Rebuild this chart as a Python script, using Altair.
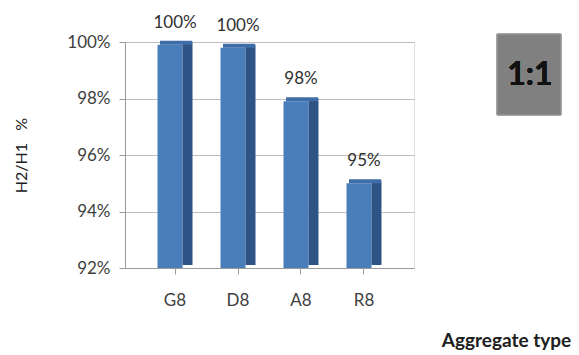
import altair as alt
import pandas as pd

categories = ["G8", "D8", "A8", "R8"]
values = [0.999, 0.998, 0.979, 0.950]
y_ticks = [0.92, 0.94, 0.96, 0.98, 1.00]

df = pd.DataFrame({"cat": categories, "val": values})

FONT = "Lato"
xenc = alt.X("cat:N", sort=categories, scale=alt.Scale(paddingInner=0.5, paddingOuter=0.544),
             axis=alt.Axis(title="Aggregate type", labelAngle=0, labelFontSize=17, labelColor="#404040",
                           labelPadding=18, domainColor="#9a9a9a", tickColor="#9a9a9a", tickSize=6,
                           titleFontSize=19, titleFontWeight="bold", titleColor="#202020",
                           titleX=381, titleY=72, titleAlign="center", titleBaseline="middle",
                           labelFont=FONT, titleFont=FONT))
yscale = alt.Scale(domain=[0.92, 1.0], zero=False, clamp=True)
yenc = alt.Y("val:Q", scale=yscale,
             axis=alt.Axis(title="H2/H1\u00a0\u00a0\u00a0%", format=".0%", values=y_ticks, labelFontSize=17,
                           labelColor="#404040", labelPadding=9, domainColor="#9a9a9a", tickColor="#9a9a9a",
                           gridColor="#bdbdbd", tickSize=6, titleFontSize=16, titleFontWeight="normal",
                           titleColor="#202020", titleX=-104, titleY=113, titleAngle=270,
                           titleAlign="center", titleBaseline="middle",
                           labelFont=FONT, titleFont=FONT))

base = alt.Chart(df)

side = base.mark_bar(width=10, xOffset=12.5, yOffset=-3, y2Offset=-3, color="#2E5486").encode(
    x=xenc, y=yenc, y2=alt.datum(0.92))
top = base.mark_bar(width=32, xOffset=1, yOffset=-4, y2Offset=0, color="#3E6DA8").encode(
    x=xenc, y=yenc, y2="val:Q")
front = base.mark_bar(width=25, xOffset=-5, color="#4A7EBB").encode(
    x=xenc, y=yenc, y2=alt.datum(0.92))
labels = base.mark_text(dy=-22, fontSize=17, color="#303030", font=FONT).encode(
    x=xenc, y=yenc, text=alt.Text("val:Q", format=".0%"))

box = base.mark_rect(color="#808080", stroke="#a0a0a0").encode(
    x=alt.value(372), x2=alt.value(436), y=alt.value(-8), y2=alt.value(73))
box_text = base.mark_text(text="1:1", fontSize=32, fontWeight="bold", color="#111111", font=FONT).encode(
    x=alt.value(405), y=alt.value(33))

chart = alt.layer(front, side, top, labels, box, box_text).properties(
    width=289, height=226,
    padding={"left": 125, "top": 42, "right": 165, "bottom": 87},
    autosize=alt.AutoSizeParams(type="none"),
).configure_view(stroke=None).configure(background="white")

chart.save("out.html", embed_options={"renderer": "svg", "actions": False})
